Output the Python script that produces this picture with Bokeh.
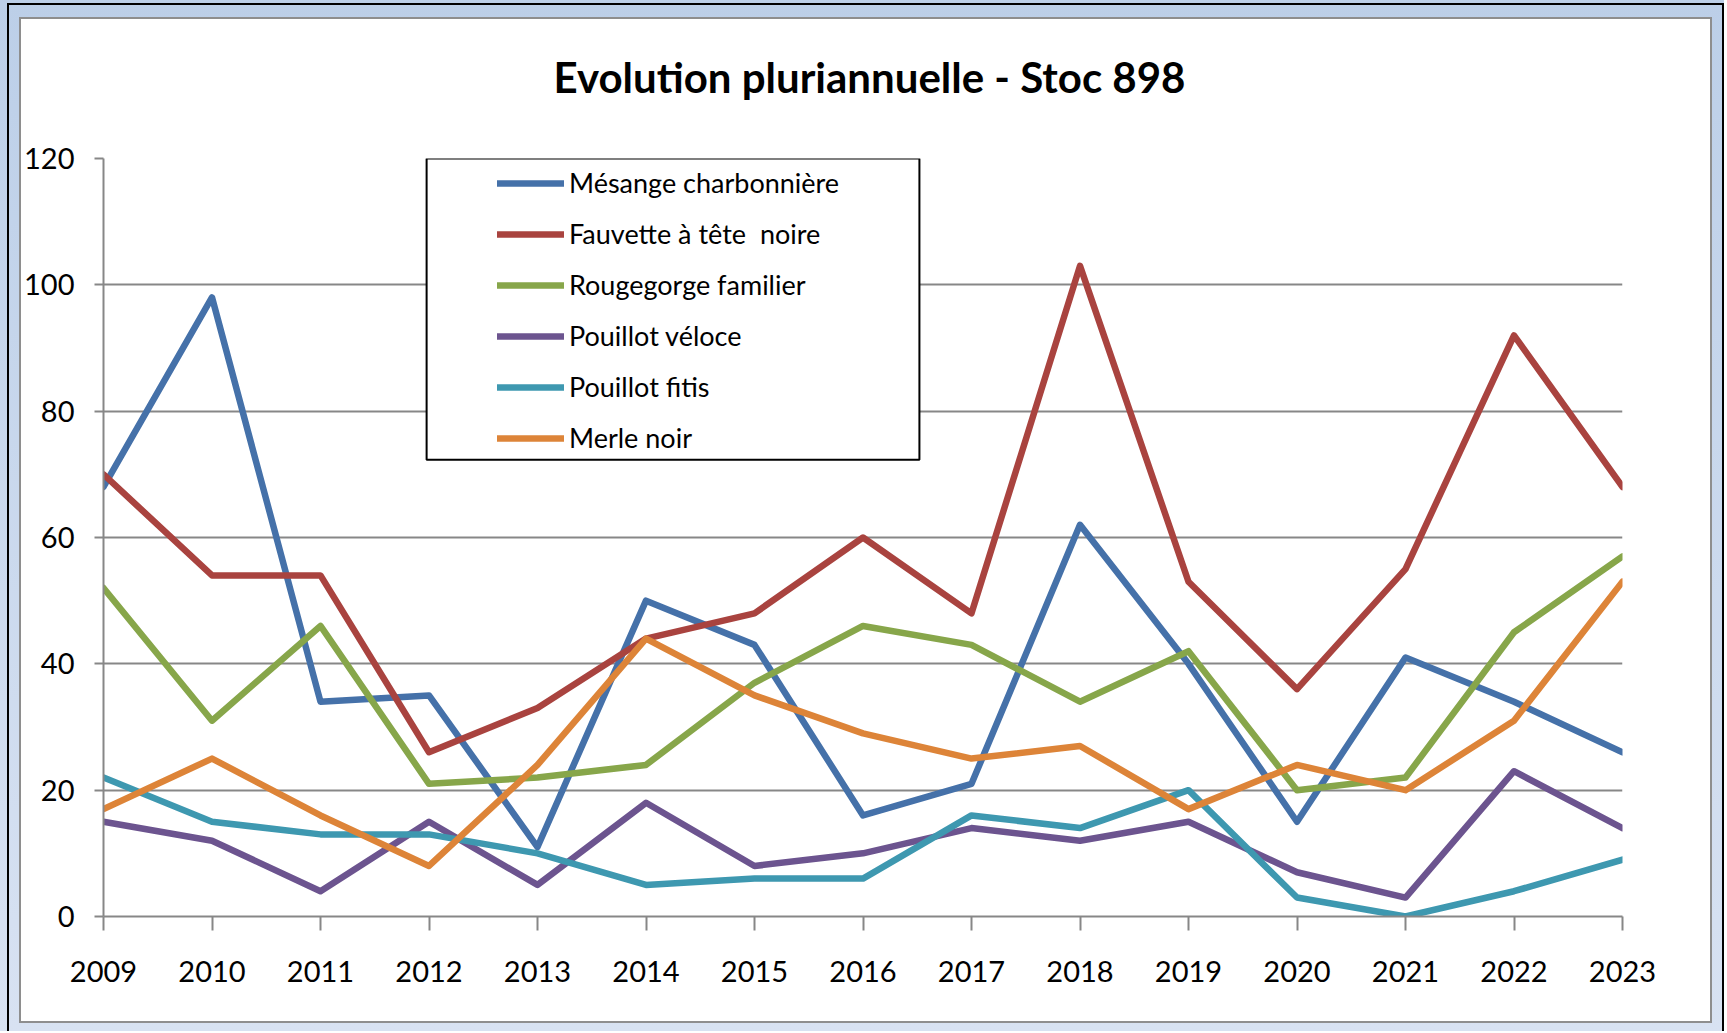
from bokeh.plotting import figure
from bokeh.models import Range1d, FixedTicker, Legend, LegendItem, BoxAnnotation
from bokeh.layouts import column
from bokeh.embed import file_html
from bokeh.resources import INLINE

# ---- data ----
years = [2009, 2010, 2011, 2012, 2013, 2014, 2015, 2016, 2017, 2018, 2019, 2020, 2021, 2022, 2023]
mesange_charbonniere = [68, 98, 34, 35, 11, 50, 43, 16, 21, 62, 40, 15, 41, 34, 26]
fauvette_tete_noire = [70, 54, 54, 26, 33, 44, 48, 60, 48, 103, 53, 36, 55, 92, 68]
rougegorge_familier = [52, 31, 46, 21, 22, 24, 37, 46, 43, 34, 42, 20, 22, 45, 57]
pouillot_veloce = [15, 12, 4, 15, 5, 18, 8, 10, 14, 12, 15, 7, 3, 23, 14]
pouillot_fitis = [22, 15, 13, 13, 10, 5, 6, 6, 16, 14, 20, 3, 0, 4, 9]
merle_noir = [17, 25, 16, 8, 24, 44, 35, 29, 25, 27, 17, 24, 20, 31, 53]

series_names = ["Mésange charbonnière", "Fauvette à tête  noire", "Rougegorge familier",
                "Pouillot véloce", "Pouillot fitis", "Merle noir"]
series_values = [mesange_charbonniere, fauvette_tete_noire, rougegorge_familier,
                 pouillot_veloce, pouillot_fitis, merle_noir]
series_colors = ["#4571A9", "#A9433F", "#87A64A", "#6C548F", "#3E98B0", "#DD8438"]
y_ticks = [0, 20, 40, 60, 80, 100, 120]
title_text = "Evolution pluriannuelle - Stoc 898"

GRAY = "#878787"
FONT = "Lato"
LIFT = 30  # canvas extends this far above the white panel (transparent)

p = figure(width=1689, height=1002 + LIFT,
           x_range=Range1d(years[0], years[-1]), y_range=Range1d(y_ticks[0], y_ticks[-1]),
           output_backend="svg", toolbar_location=None,
           min_border_left=81, min_border_right=88, min_border_top=139 + LIFT, min_border_bottom=105,
           background_fill_color="white", border_fill_color="white", border_fill_alpha=0.0,
           outline_line_color=None)

p.title.text = title_text
p.title.text_font = FONT
p.title.text_font_size = "42px"
p.title.text_font_style = "bold"
p.title.text_color = "black"
p.title.align = "left"
p.title.offset = 450
p.title.standoff = 113

items = []
for name, vals, col in zip(series_names, series_values, series_colors):
    r = p.line(years, vals, line_color=col, line_width=6.5, line_join="round", line_cap="round")
    items.append(LegendItem(label=name, renderers=[r]))

# axes
p.xaxis.ticker = FixedTicker(ticks=years)
p.yaxis.ticker = FixedTicker(ticks=y_ticks)
for ax in (p.xaxis[0], p.yaxis[0]):
    ax.axis_line_color = GRAY
    ax.axis_line_width = 2
    ax.major_tick_line_color = GRAY
    ax.major_tick_line_width = 2
    ax.major_tick_in = 0
    ax.minor_tick_line_color = None
    ax.major_label_text_font = FONT
    ax.major_label_text_font_size = "29px"
    ax.major_label_text_color = "black"
p.yaxis.major_tick_out = 9
p.yaxis.major_label_standoff = 20
p.xaxis.major_tick_out = 14
p.xaxis.major_label_standoff = 30

p.xgrid.visible = False
p.ygrid.grid_line_color = GRAY
p.ygrid.grid_line_width = 2

# legend frame (white box with black border)
box = BoxAnnotation(left=2011.978, right=2016.52, top=120, bottom=72.3,
                    fill_color="white", fill_alpha=1.0, line_color="black", line_alpha=1.0, line_width=2)
p.add_layout(box)

legend = Legend(items=items, location=(394, 462), orientation="vertical",
                label_text_font=FONT, label_text_font_size="27px", label_text_color="black",
                glyph_width=67, glyph_height=30, label_height=30, label_standoff=5,
                spacing=18, padding=10, margin=0,
                border_line_color=None, background_fill_alpha=0)
p.add_layout(legend)

lifted = column(p, styles={"margin-top": f"-{LIFT}px"})
inner = column(lifted, styles={"border": "2px solid #8E8E8E", "background-color": "white"})
mid = column(inner, styles={"border-top": "2px solid black", "border-left": "2px solid black",
                            "border-right": "2px solid black", "padding": "12px 10px 8px 10px"})
outer = column(mid, styles={"background": "linear-gradient(#BCCFE8, #D8E2F2)",
                            "padding": "3px 0px 0px 7px"})

open("out.html", "w").write(file_html(outer, INLINE))
